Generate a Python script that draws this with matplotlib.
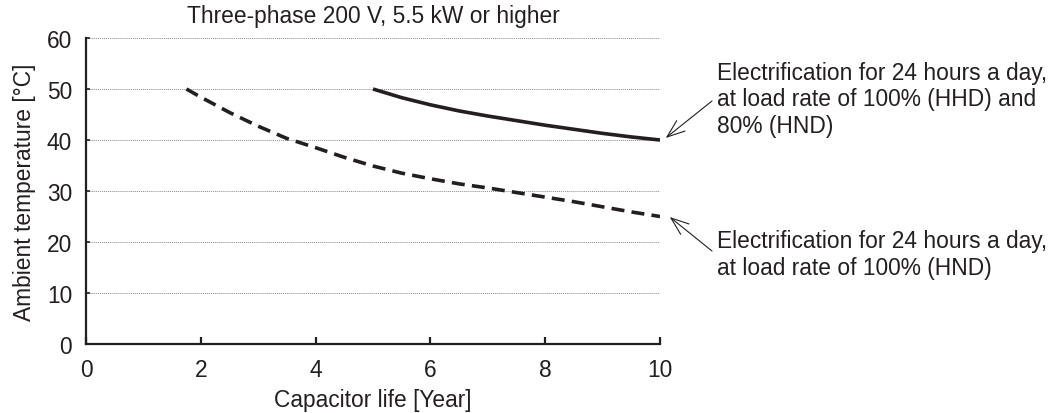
import numpy as np
import matplotlib
matplotlib.use("Agg")
import matplotlib.pyplot as plt

plt.rcParams['font.family'] = ['Liberation Sans', 'DejaVu Sans']

# data
life_full = [5.0, 5.5, 6.0, 6.5, 7.0, 7.5, 8.0, 8.5, 9.0, 9.5, 10.0]
temp_full = [50.0, 48.3, 46.9, 45.7, 44.7, 43.8, 42.9, 42.1, 41.3, 40.6, 40.0]

life_hnd = [1.75, 2.0, 2.5, 3.0, 3.5, 4.0, 4.5, 5.0, 5.5, 6.0,
            6.5, 7.0, 7.5, 8.0, 8.5, 9.0, 9.5, 10.0]
temp_hnd = [50.0, 48.4, 45.4, 42.7, 40.3, 38.5, 36.6, 34.9, 33.5, 32.4,
            31.4, 30.6, 29.7, 28.8, 27.9, 26.9, 25.9, 25.0]

x_ticks = [0, 2, 4, 6, 8, 10]
y_ticks = [0, 10, 20, 30, 40, 50, 60]

label_full = "Electrification for 24 hours a day,\nat load rate of 100% (HHD) and\n80% (HND)"
label_hnd = "Electrification for 24 hours a day,\nat load rate of 100% (HND)"

ink = '#231f20'
fs = 16.4

W, H = 1061, 414
fig = plt.figure(figsize=(W / 100, H / 100), dpi=100)
ax = fig.add_axes([86 / W, 1 - 345 / H, (660 - 86) / W, (345 - 39) / H])

ax.plot(life_full, temp_full, color=ink, lw=2.6, solid_capstyle='butt')
ax.plot(life_hnd, temp_hnd, color=ink, lw=2.6, dashes=(3.6, 2.0))

ax.set_xlim(0, 10)
ax.set_ylim(0, 60)
ax.set_xticks(x_ticks)
ax.set_yticks(y_ticks)
ax.grid(axis='y', color='#888888', lw=0.7, ls=(0, (1, 1)))
ax.set_axisbelow(True)

for s in ['top', 'right']:
    ax.spines[s].set_visible(False)
for s in ['left', 'bottom']:
    ax.spines[s].set_linewidth(1.6)
    ax.spines[s].set_color(ink)

ax.tick_params(axis='x', direction='in', length=5, width=1.6, labelsize=fs, pad=10, colors=ink)
ax.tick_params(axis='y', direction='in', length=3, width=1.2, labelsize=fs, pad=10, colors=ink)

ax.set_xlabel("Capacitor life [Year]", fontsize=fs, color=ink, labelpad=5)
ax.set_ylabel("Ambient temperature [°C]", fontsize=fs, color=ink, labelpad=8)

fig.text(373 / W, 1 - 17 / H, "Three-phase 200 V, 5.5 kW or higher",
         ha='center', va='center', fontsize=fs, color=ink)

# callout texts
fig.text(717 / W, 1 - 100 / H, label_full, ha='left', va='center',
         fontsize=fs, color=ink, linespacing=1.22)
fig.text(717 / W, 1 - 255 / H, label_hnd, ha='left', va='center',
         fontsize=fs, color=ink, linespacing=1.22)

# open arrows from the texts to the curve ends
arrow = dict(arrowstyle='->, head_length=0.8, head_width=0.3', color=ink,
             lw=0.8, shrinkA=0, shrinkB=0, mutation_scale=16)
ax.annotate('', xy=(10.1, temp_full[-1] + 0.4), xytext=(712 / W, 1 - 102 / H),
            textcoords='figure fraction', annotation_clip=False, arrowprops=arrow)
ax.annotate('', xy=(10.17, temp_hnd[-1] - 0.1), xytext=(712 / W, 1 - 252 / H),
            textcoords='figure fraction', annotation_clip=False, arrowprops=arrow)

fig.savefig("out.png", dpi=100)
